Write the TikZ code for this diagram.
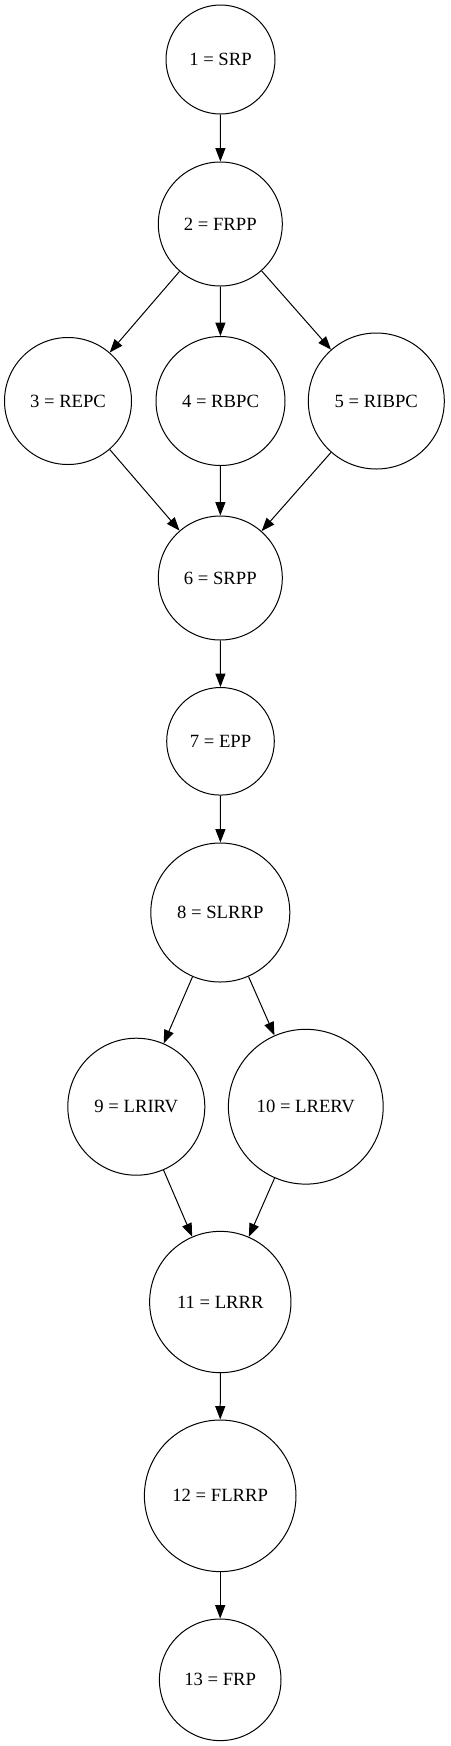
\documentclass[tikz,border=0pt]{standalone}
\usepackage{fontspec}
\setmainfont{Liberation Serif}
\usetikzlibrary{arrows.meta}
\begin{document}
\begin{tikzpicture}[x=0.75pt,y=-0.75pt,
  state/.style={circle,draw,line width=0.75pt,inner sep=0pt,font=\fontsize{14}{16}\selectfont},
  edge/.style={line width=0.75pt,-{Triangle[length=10pt,width=7.5pt]}}]
\useasboundingbox (0,0) rectangle (450,1746);
\node[state,minimum size=81.75pt] (n1) at (220.5,59.5) {1 = SRP};
\node[state,minimum size=93pt] (n2) at (220.3,224) {2 = FRPP};
\node[state,minimum size=95.25pt] (n3) at (68,401) {3 = REPC};
\node[state,minimum size=96.75pt] (n4) at (220.5,401) {4 = RBPC};
\node[state,minimum size=102pt] (n5) at (376.3,401) {5 = RIBPC};
\node[state,minimum size=93pt] (n6) at (220.3,578) {6 = SRPP};
\node[state,minimum size=80.7pt] (n7) at (220.5,741.3) {7 = EPP};
\node[state,minimum size=104.25pt] (n8) at (220.3,912.5) {8 = SLRRP};
\node[state,minimum size=102.75pt] (n9) at (136.3,1106.7) {9 = LRIRV};
\node[state,minimum size=116.1pt] (n10) at (305.8,1106.7) {10 = LRERV};
\node[state,minimum size=106pt] (n11) at (220.3,1302) {11 = LRRR};
\node[state,minimum size=113.7pt] (n12) at (220.2,1495.8) {12 = FLRRP};
\node[state,minimum size=91.2pt] (n13) at (220.2,1679.8) {13 = FRP};
\draw[edge] (n1) -- (n2);
\draw[edge] (n2) -- (n3);
\draw[edge] (n2) -- (n4);
\draw[edge] (n2) -- (n5);
\draw[edge] (n3) -- (n6);
\draw[edge] (n4) -- (n6);
\draw[edge] (n5) -- (n6);
\draw[edge] (n6) -- (n7);
\draw[edge] (n7) -- (n8);
\draw[edge] (n8) -- (n9);
\draw[edge] (n8) -- (n10);
\draw[edge] (n9) -- (n11);
\draw[edge] (n10) -- (n11);
\draw[edge] (n11) -- (n12);
\draw[edge] (n12) -- (n13);
\end{tikzpicture}
\end{document}
